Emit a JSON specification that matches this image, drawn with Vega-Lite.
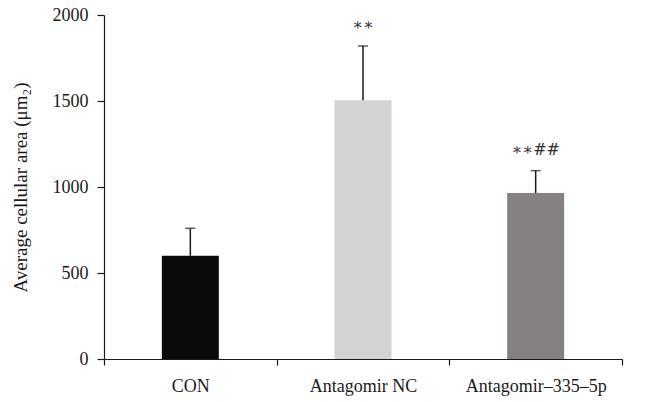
{
  "$schema": "https://vega.github.io/schema/vega-lite/v6.json",
  "width": 518,
  "height": 344,
  "autosize": "none",
  "padding": {"left": 104, "top": 15, "right": 42, "bottom": 43},
  "background": "white",
  "config": {
    "view": {"stroke": null},
    "font": "Liberation Serif",
    "axis": {
      "labelFont": "Liberation Serif",
      "titleFont": "Liberation Serif",
      "labelColor": "#1a1a1a",
      "titleColor": "#1a1a1a",
      "domainColor": "#1a1a1a",
      "tickColor": "#1a1a1a",
      "grid": false
    }
  },
  "data": {
    "values": [
      {"group": "CON", "mean": 600, "err": 760, "label": ""},
      {"group": "Antagomir NC", "mean": 1505, "err": 1820, "label": "∗∗"},
      {"group": "Antagomir–335–5p", "mean": 965, "err": 1095, "label": "∗∗##"}
    ]
  },
  "encoding": {
    "x": {
      "field": "group",
      "type": "nominal",
      "sort": ["CON", "Antagomir NC", "Antagomir–335–5p"],
      "scale": {"paddingInner": 0, "paddingOuter": 0},
      "axis": {
        "title": null,
        "labelAngle": 0,
        "tickBand": "extent",
        "labelFontSize": 18,
        "labelPadding": 12,
        "tickSize": 6,
        "domainWidth": 1.2,
        "tickWidth": 1.2
      }
    }
  },
  "layer": [
    {
      "mark": {"type": "bar", "width": {"band": 0.33}},
      "encoding": {
        "y": {
          "field": "mean",
          "type": "quantitative",
          "scale": {"domain": [0, 2000]},
          "axis": {
            "title": "Average cellular area (μm₂)",
            "titleFontSize": 19,
            "titleFontWeight": "normal",
            "titlePadding": 22,
            "values": [0, 500, 1000, 1500, 2000],
            "format": "d",
            "labelFontSize": 18,
            "labelPadding": 9,
            "tickSize": 7,
            "domainWidth": 1.2,
            "tickWidth": 1.2
          }
        },
        "color": {
          "field": "group",
          "type": "nominal",
          "sort": ["CON", "Antagomir NC", "Antagomir–335–5p"],
          "scale": {"range": ["#0a0a0a", "#d4d3d2", "#858180"]},
          "legend": null
        }
      }
    },
    {
      "mark": {"type": "rule", "color": "#1a1a1a", "strokeWidth": 1.5},
      "encoding": {
        "y": {"field": "mean", "type": "quantitative"},
        "y2": {"field": "err"}
      }
    },
    {
      "mark": {"type": "tick", "color": "#1a1a1a", "thickness": 1.5, "size": 10},
      "encoding": {
        "y": {"field": "err", "type": "quantitative"}
      }
    },
    {
      "mark": {"type": "text", "baseline": "middle", "dy": -21, "fontSize": 16, "color": "#333333", "font": "DejaVu Serif"},
      "encoding": {
        "y": {"field": "err", "type": "quantitative"},
        "text": {"field": "label"}
      }
    }
  ]
}
